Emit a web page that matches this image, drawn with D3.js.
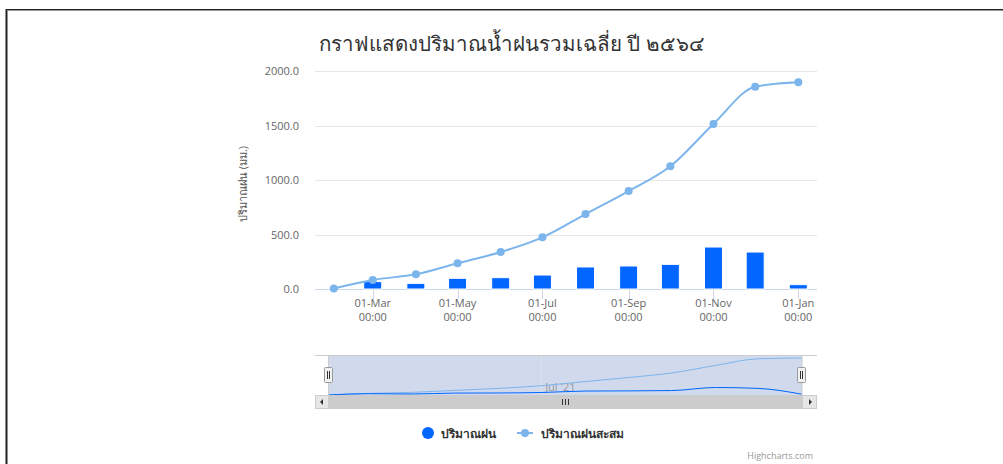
<!DOCTYPE html>
<html><head><meta charset="utf-8">
<script src="https://cdn.jsdelivr.net/npm/d3@7/dist/d3.min.js"></script>
<style>
html,body{margin:0;padding:0;background:#fff;}
svg{display:block;}
text{font-family:"Open Sans","Noto Sans","DejaVu Sans",sans-serif;}
</style></head>
<body><svg id="c" width="1003" height="464"></svg>
<script>
// ---- data ----
const title = "กราฟแสดงปริมาณน้ำฝนรวมเฉลี่ย ปี ๒๕๖๔";
const yTitle = "ปริมาณฝน (มม.)";
const seriesNames = ["ปริมาณฝน", "ปริมาณฝนสะสม"];
const dates = ["2021-02-01","2021-03-01","2021-04-01","2021-05-01","2021-06-01","2021-07-01",
               "2021-08-01","2021-09-01","2021-10-01","2021-11-01","2021-12-01","2022-01-01"];
const rain = [0, 68, 52, 98, 104, 128, 202, 211, 226, 385, 339, 40];
const cumulative = [5, 83, 135, 236, 339, 474, 688, 899, 1126, 1514, 1856, 1896];
const yTicks = [0, 500, 1000, 1500, 2000];
const xTicks = ["2021-03-01","2021-05-01","2021-07-01","2021-09-01","2021-11-01","2022-01-01"];
const navTicks = ["2021-07-01"];

const parse = d3.utcParse("%Y-%m-%d");
const D = dates.map(parse);
const svg = d3.select("#c");

// page border (inset style)
svg.append("line").attr("x1",6.5).attr("y1",464).attr("x2",6.5).attr("y2",9).attr("stroke","#222").attr("stroke-width",2);
svg.append("line").attr("x1",6).attr("y1",9.5).attr("x2",1003).attr("y2",9.5).attr("stroke","#222").attr("stroke-width",1.2);
svg.append("line").attr("x1",7.5).attr("y1",10.5).attr("x2",1003).attr("y2",10.5).attr("stroke","#999").attr("stroke-width",1);

// title
svg.append("text").attr("x",512).attr("y",51).attr("text-anchor","middle")
  .attr("font-size",20.5).attr("font-weight",300).attr("fill","#333").text(title);

// scales
const plotL = 315, plotR = 817;
const x = d3.scaleUtc().domain([D[0], D[D.length-1]]).range([333.8, 798.3]);
const y = d3.scaleLinear().domain([0, 2000]).range([289, 71]);

// grid
const g = svg.append("g");
g.selectAll("line.grid").data(yTicks).enter().append("line")
  .attr("x1",plotL).attr("x2",plotR).attr("y1",d=>Math.round(y(d))+0.5).attr("y2",d=>Math.round(y(d))+0.5)
  .attr("stroke","#e6e6e6").attr("stroke-width",1);
g.selectAll("text.yl").data(yTicks).enter().append("text")
  .attr("x",299).attr("y",d=>y(d)+4).attr("text-anchor","end").attr("font-size",11).attr("fill","#666")
  .text(d=>d3.format(".1f")(d));
svg.append("text").attr("transform","translate(247,184) rotate(-90)").attr("text-anchor","middle")
  .attr("font-size",11).attr("fill","#555").text(yTitle);

// x axis
g.append("line").attr("x1",plotL).attr("x2",plotR).attr("y1",289.5).attr("y2",289.5).attr("stroke","#ccd6eb");
const xt = xTicks.map(parse);
g.selectAll("line.xt").data(xt).enter().append("line")
  .attr("x1",d=>Math.round(x(d))+0.5).attr("x2",d=>Math.round(x(d))+0.5).attr("y1",289).attr("y2",299)
  .attr("stroke","#ccd6eb");
const fmt = d3.utcFormat("%d-%b");
xt.forEach(d=>{
  const t = g.append("text").attr("text-anchor","middle").attr("font-size",11).attr("fill","#666");
  t.append("tspan").attr("x",x(d)).attr("y",307).text(fmt(d));
  t.append("tspan").attr("x",x(d)).attr("y",321).text("00:00");
});

// bars
const barW = 18;
g.selectAll("rect.bar").data(D.map((d,i)=>({d,v:rain[i]})).filter(p=>p.v>0)).enter().append("rect")
  .attr("x",p=>x(p.d)-barW/2).attr("width",barW)
  .attr("y",p=>y(p.v)).attr("height",p=>y(0)-y(p.v))
  .attr("fill","#0066ff").attr("stroke","#fff").attr("stroke-width",1);

// line
const pts = D.map((d,i)=>({d,v:cumulative[i]}));
const line = d3.line().x(p=>x(p.d)).y(p=>y(p.v)).curve(d3.curveMonotoneX);
g.append("path").attr("d",line(pts)).attr("fill","none").attr("stroke","#7cb5ec").attr("stroke-width",2);
g.selectAll("circle.pt").data(pts).enter().append("circle")
  .attr("cx",p=>x(p.d)).attr("cy",p=>y(p.v)).attr("r",4).attr("fill","#7cb5ec");

// navigator
const navT = 355, navB = 395;
const nx = d3.scaleUtc().domain([D[0], D[D.length-1]]).range([328.5, 802]);
const ny = d3.scaleLinear().domain([0, d3.max(cumulative)]).range([395, 358]);
const nav = svg.append("g");
nav.append("rect").attr("x",nx(D[0])).attr("y",navT).attr("width",nx(D[D.length-1])-nx(D[0])).attr("height",navB-navT)
  .attr("fill","rgba(102,133,194,0.3)");
navTicks.map(parse).forEach(d=>{
  nav.append("line").attr("x1",Math.round(nx(d))+0.5).attr("x2",Math.round(nx(d))+0.5).attr("y1",navT).attr("y2",navB)
    .attr("stroke","#e6e6e6").attr("stroke-opacity",0.6);
  nav.append("text").attr("x",nx(d)+4).attr("y",391).attr("font-size",11).attr("fill","#999").text("Jul '21");
});
const nline = (vals)=>d3.line().x((v,i)=>nx(D[i])).y(v=>ny(v)).curve(d3.curveMonotoneX)(vals);
nav.append("path").attr("d",nline(cumulative)).attr("fill","none").attr("stroke","#7cb5ec").attr("stroke-width",1);
nav.append("path").attr("d",nline(rain)).attr("fill","none").attr("stroke","#0066ff").attr("stroke-width",1);
nav.append("line").attr("x1",plotL).attr("x2",plotR).attr("y1",navT+0.5).attr("y2",navT+0.5).attr("stroke","#cccccc");
nav.append("line").attr("x1",328.5).attr("x2",328.5).attr("y1",navT).attr("y2",navB).attr("stroke","#cccccc");
nav.append("line").attr("x1",802).attr("x2",802).attr("y1",navT).attr("y2",navB).attr("stroke","#cccccc");
[nx(D[0]), nx(D[D.length-1])].forEach(cx=>{
  nav.append("rect").attr("x",Math.round(cx)-4.5).attr("y",367.5).attr("width",8).attr("height",15)
    .attr("fill","#f2f2f2").attr("stroke","#999").attr("stroke-width",1).attr("rx",1);
  nav.append("line").attr("x1",Math.round(cx)-1.5).attr("x2",Math.round(cx)-1.5).attr("y1",371).attr("y2",379).attr("stroke","#333");
  nav.append("line").attr("x1",Math.round(cx)+0.5).attr("x2",Math.round(cx)+0.5).attr("y1",371).attr("y2",379).attr("stroke","#333");
});

// scrollbar
const sbT = 395, sbH = 14;
nav.append("rect").attr("x",plotL).attr("y",sbT).attr("width",plotR-plotL).attr("height",sbH).attr("fill","#f2f2f2");
nav.append("rect").attr("x",328.5).attr("y",sbT).attr("width",802-328.5).attr("height",sbH).attr("fill","#cccccc");
nav.append("rect").attr("x",plotL+0.5).attr("y",sbT+0.5).attr("width",13).attr("height",sbH-1).attr("fill","#e6e6e6").attr("stroke","#cccccc");
nav.append("rect").attr("x",802.5).attr("y",sbT+0.5).attr("width",14).attr("height",sbH-1).attr("fill","#e6e6e6").attr("stroke","#cccccc");
nav.append("path").attr("d",`M${plotL+8},${sbT+4} L${plotL+8},${sbT+10} L${plotL+5},${sbT+7} Z`).attr("fill","#333");
nav.append("path").attr("d",`M${plotR-8},${sbT+4} L${plotR-8},${sbT+10} L${plotR-5},${sbT+7} Z`).attr("fill","#333");
const mid = Math.round((328.5+802)/2);
[-3,0,3].forEach(o=>nav.append("line").attr("x1",mid+o+0.5).attr("x2",mid+o+0.5).attr("y1",sbT+4).attr("y2",sbT+10).attr("stroke","#333"));

// legend
const lg = svg.append("g");
lg.append("circle").attr("cx",428).attr("cy",433).attr("r",6).attr("fill","#0066ff");
lg.append("text").attr("x",441).attr("y",437.5).attr("font-size",12).attr("font-weight","bold").attr("fill","#333").text(seriesNames[0]);
lg.append("line").attr("x1",517).attr("x2",533).attr("y1",433).attr("y2",433).attr("stroke","#7cb5ec").attr("stroke-width",2);
lg.append("circle").attr("cx",525).attr("cy",433).attr("r",4).attr("fill","#7cb5ec");
lg.append("text").attr("x",541).attr("y",437.5).attr("font-size",12).attr("font-weight","bold").attr("fill","#333").text(seriesNames[1]);

// credits
svg.append("text").attr("x",813).attr("y",459).attr("text-anchor","end").attr("font-size",9).attr("fill","#999").text("Highcharts.com");
</script></body></html>
